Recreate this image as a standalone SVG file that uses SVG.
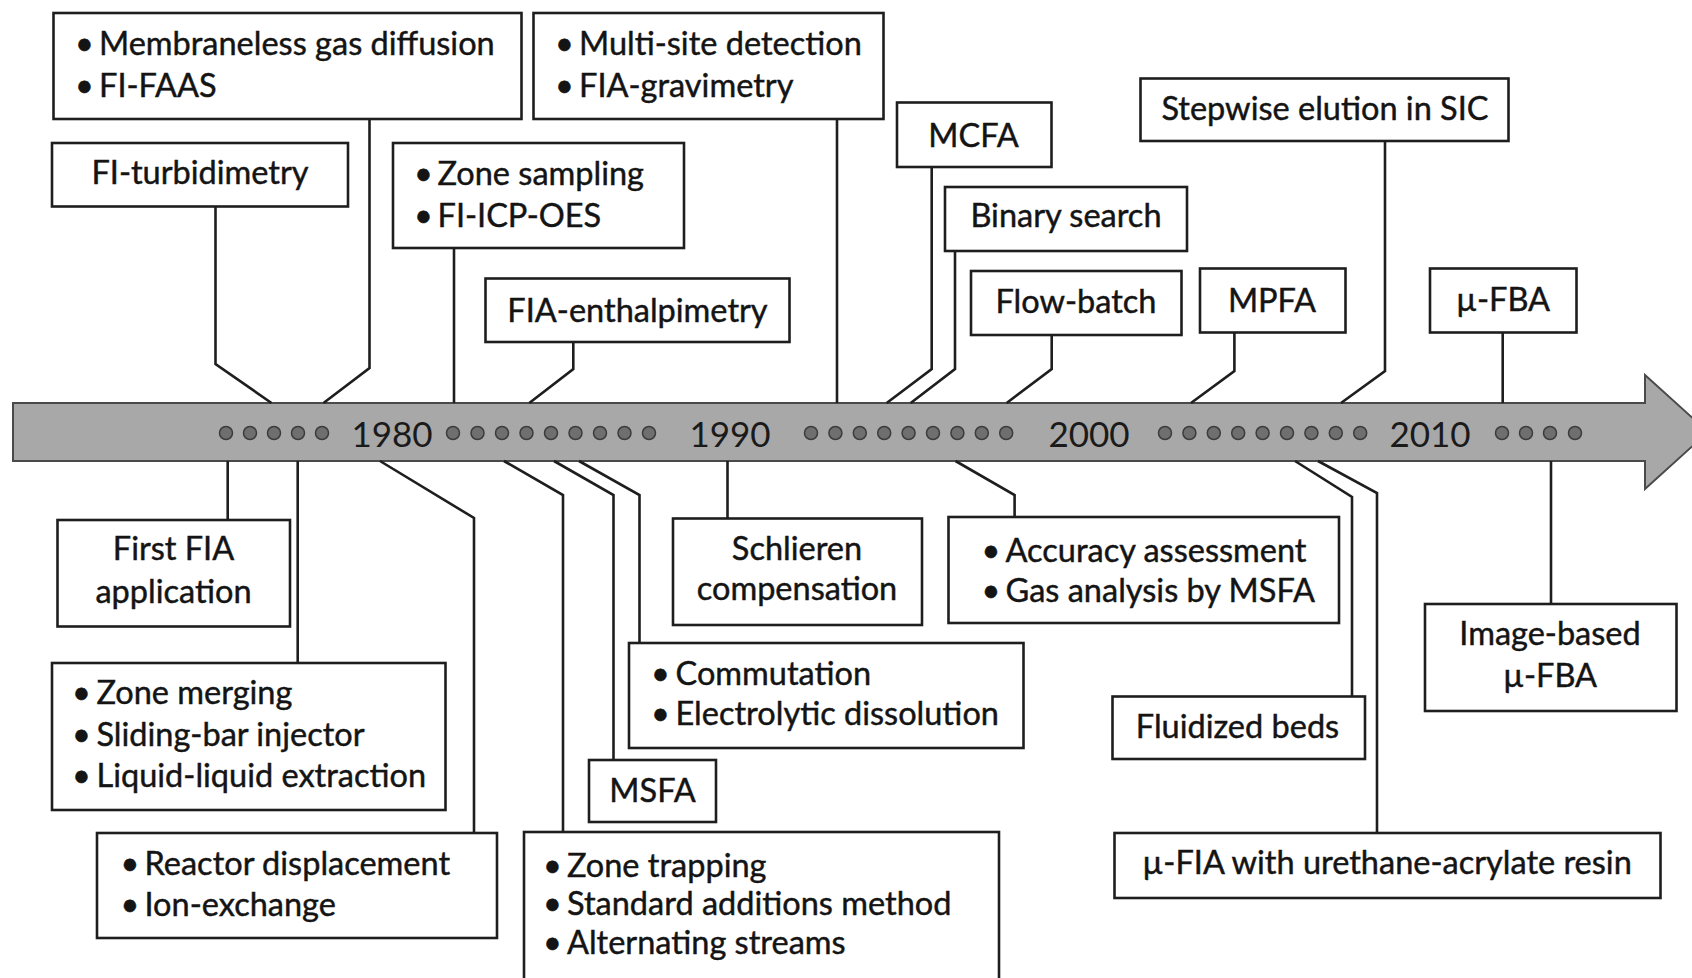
<svg xmlns="http://www.w3.org/2000/svg" width="1692" height="978" viewBox="0 0 1692 978">
<defs>
<style>
.box{fill:#fff;stroke:#1e1e1e;stroke-width:2.6}
.t{font-family:Lato,"Liberation Sans",sans-serif;font-size:32.5px;fill:#141414;stroke:#141414;stroke-width:0.45}
.c{text-anchor:middle}
.yr{font-family:Lato,"Liberation Sans",sans-serif;font-size:35px;fill:#1a1a1a;text-anchor:middle}
.ln{fill:none;stroke:#1e1e1e;stroke-width:2.6;stroke-linejoin:miter}
.dot{fill:#6f6f6f;stroke:#3c3c3c;stroke-width:1.5}
</style>
</defs>
<rect width="1692" height="978" fill="#fff"/>

<g id="timeline">
<path d="M13,403 L1645,403 L1645,375 L1708,432 L1645,489 L1645,461 L13,461 Z" fill="#a8a8a8" stroke="#4a4a4a" stroke-width="2"/>
<g id="dots">
<circle class="dot" cx="226" cy="433" r="6.5"/><circle class="dot" cx="250" cy="433" r="6.5"/><circle class="dot" cx="274" cy="433" r="6.5"/><circle class="dot" cx="298" cy="433" r="6.5"/><circle class="dot" cx="322" cy="433" r="6.5"/>
<circle class="dot" cx="453" cy="433" r="6.5"/><circle class="dot" cx="477.5" cy="433" r="6.5"/><circle class="dot" cx="502" cy="433" r="6.5"/><circle class="dot" cx="526.5" cy="433" r="6.5"/><circle class="dot" cx="551" cy="433" r="6.5"/><circle class="dot" cx="575.5" cy="433" r="6.5"/><circle class="dot" cx="600" cy="433" r="6.5"/><circle class="dot" cx="624.5" cy="433" r="6.5"/><circle class="dot" cx="649" cy="433" r="6.5"/>
<circle class="dot" cx="811" cy="433" r="6.5"/><circle class="dot" cx="835.4" cy="433" r="6.5"/><circle class="dot" cx="859.8" cy="433" r="6.5"/><circle class="dot" cx="884.2" cy="433" r="6.5"/><circle class="dot" cx="908.6" cy="433" r="6.5"/><circle class="dot" cx="933" cy="433" r="6.5"/><circle class="dot" cx="957.4" cy="433" r="6.5"/><circle class="dot" cx="981.8" cy="433" r="6.5"/><circle class="dot" cx="1006.2" cy="433" r="6.5"/>
<circle class="dot" cx="1165" cy="433" r="6.5"/><circle class="dot" cx="1189.4" cy="433" r="6.5"/><circle class="dot" cx="1213.8" cy="433" r="6.5"/><circle class="dot" cx="1238.2" cy="433" r="6.5"/><circle class="dot" cx="1262.6" cy="433" r="6.5"/><circle class="dot" cx="1287" cy="433" r="6.5"/><circle class="dot" cx="1311.4" cy="433" r="6.5"/><circle class="dot" cx="1335.8" cy="433" r="6.5"/><circle class="dot" cx="1360.2" cy="433" r="6.5"/>
<circle class="dot" cx="1502" cy="433" r="6.5"/><circle class="dot" cx="1526" cy="433" r="6.5"/><circle class="dot" cx="1550" cy="433" r="6.5"/><circle class="dot" cx="1575" cy="433" r="6.5"/>
</g>
<text class="yr" x="392" y="447">1980</text>
<text class="yr" x="730" y="447">1990</text>
<text class="yr" x="1089" y="447">2000</text>
<text class="yr" x="1430" y="447">2010</text>
</g>

<g id="connectors">
<path class="ln" d="M215.5,206 L215.5,364 L271.5,403"/>
<path class="ln" d="M369.5,119 L369.5,368 L323.5,403"/>
<path class="ln" d="M454,248 L454,403"/>
<path class="ln" d="M573.3,342 L573.3,369 L529.3,403"/>
<path class="ln" d="M837,119 L837,403"/>
<path class="ln" d="M931.7,167 L931.7,369 L886.7,403"/>
<path class="ln" d="M955,251 L955,369 L910.7,403"/>
<path class="ln" d="M1051.7,335 L1051.7,369 L1006.7,403"/>
<path class="ln" d="M1234.4,332.7 L1234.4,371 L1191,403"/>
<path class="ln" d="M1385,141 L1385,371 L1341,403"/>
<path class="ln" d="M1502.7,333 L1502.7,403"/>
<path class="ln" d="M227.7,461 L227.7,520"/>
<path class="ln" d="M297.7,461 L297.7,663"/>
<path class="ln" d="M380,461 L474,518 L474,833"/>
<path class="ln" d="M504,461 L563,495 L563,832"/>
<path class="ln" d="M554,461 L613.5,495 L613.5,760"/>
<path class="ln" d="M579,461 L639.5,495 L639.5,643"/>
<path class="ln" d="M727.5,461 L727.5,518"/>
<path class="ln" d="M955.5,461 L1014.6,495 L1014.6,517"/>
<path class="ln" d="M1295,461 L1352,497 L1352,696"/>
<path class="ln" d="M1318,461 L1377,493 L1377,833"/>
<path class="ln" d="M1551,461 L1551,604"/>
</g>

<g id="n-membraneless">
<rect class="box" x="53.5" y="13" width="468" height="106"/>
<text class="t" y="55"><tspan x="75">•</tspan><tspan x="99">Membraneless gas diffusion</tspan></text>
<text class="t" y="96.5"><tspan x="75">•</tspan><tspan x="99">FI-FAAS</tspan></text>
</g>
<g id="n-multisite">
<rect class="box" x="533.5" y="13" width="350" height="106"/>
<text class="t" y="55"><tspan x="555">•</tspan><tspan x="579">Multi-site detection</tspan></text>
<text class="t" y="96.5"><tspan x="555">•</tspan><tspan x="579">FIA-gravimetry</tspan></text>
</g>
<g id="n-turbidimetry">
<rect class="box" x="52" y="143" width="296" height="63.5"/>
<text class="t c" x="200" y="183.5">FI-turbidimetry</text>
</g>
<g id="n-zonesampling">
<rect class="box" x="393" y="143" width="291" height="105"/>
<text class="t" y="185"><tspan x="414">•</tspan><tspan x="437.5">Zone sampling</tspan></text>
<text class="t" y="226.5"><tspan x="414">•</tspan><tspan x="437.5">FI-ICP-OES</tspan></text>
</g>
<g id="n-enthalpimetry">
<rect class="box" x="485.5" y="278.5" width="304" height="63.5"/>
<text class="t c" x="637.5" y="321.5">FIA-enthalpimetry</text>
</g>
<g id="n-mcfa">
<rect class="box" x="897" y="102.5" width="154.5" height="64.5"/>
<text class="t c" x="973.5" y="146.5">MCFA</text>
</g>
<g id="n-binary">
<rect class="box" x="945" y="187" width="242" height="64"/>
<text class="t c" x="1066" y="226.5">Binary search</text>
</g>
<g id="n-flowbatch">
<rect class="box" x="971" y="271" width="210.5" height="64"/>
<text class="t c" x="1076" y="313">Flow-batch</text>
</g>
<g id="n-mpfa">
<rect class="box" x="1200" y="268.5" width="145.5" height="64"/>
<text class="t c" x="1272" y="311.5">MPFA</text>
</g>
<g id="n-stepwise">
<rect class="box" x="1140.5" y="78.5" width="368" height="62.5"/>
<text class="t c" x="1325" y="120">Stepwise elution in SIC</text>
</g>
<g id="n-mufba">
<rect class="box" x="1430" y="268.5" width="146.5" height="64"/>
<text class="t c" x="1503" y="311">µ-FBA</text>
</g>
<g id="n-firstfia">
<rect class="box" x="57.5" y="520" width="232.5" height="106.5"/>
<text class="t c" x="173.5" y="560">First FIA</text>
<text class="t c" x="173.5" y="602.5">application</text>
</g>
<g id="n-zonemerging">
<rect class="box" x="52" y="663" width="393.5" height="147"/>
<text class="t" y="703.5"><tspan x="72">•</tspan><tspan x="96.5">Zone merging</tspan></text>
<text class="t" y="745.5"><tspan x="72">•</tspan><tspan x="96.5">Sliding-bar injector</tspan></text>
<text class="t" y="787"><tspan x="72">•</tspan><tspan x="96.5">Liquid-liquid extraction</tspan></text>
</g>
<g id="n-reactor">
<rect class="box" x="97" y="833" width="400" height="105"/>
<text class="t" y="875"><tspan x="120.5">•</tspan><tspan x="144.5">Reactor displacement</tspan></text>
<text class="t" y="916"><tspan x="120.5">•</tspan><tspan x="144.5">Ion-exchange</tspan></text>
</g>
<g id="n-zonetrapping">
<rect class="box" x="524" y="832" width="475" height="160"/>
<text class="t" y="877"><tspan x="543">•</tspan><tspan x="567">Zone trapping</tspan></text>
<text class="t" y="915"><tspan x="543">•</tspan><tspan x="567">Standard additions method</tspan></text>
<text class="t" y="953.5"><tspan x="543">•</tspan><tspan x="567">Alternating streams</tspan></text>
</g>
<g id="n-msfa">
<rect class="box" x="589" y="760" width="127" height="62"/>
<text class="t c" x="652.5" y="801.5">MSFA</text>
</g>
<g id="n-commutation">
<rect class="box" x="629" y="643" width="394.5" height="105"/>
<text class="t" y="685"><tspan x="651">•</tspan><tspan x="675.5">Commutation</tspan></text>
<text class="t" y="725"><tspan x="651">•</tspan><tspan x="675.5">Electrolytic dissolution</tspan></text>
</g>
<g id="n-schlieren">
<rect class="box" x="673" y="518.5" width="249" height="106.5"/>
<text class="t c" x="797" y="559.5">Schlieren</text>
<text class="t c" x="797" y="600">compensation</text>
</g>
<g id="n-accuracy">
<rect class="box" x="948.5" y="517" width="390.5" height="106"/>
<text class="t" y="561.5"><tspan x="981.5">•</tspan><tspan x="1005.5">Accuracy assessment</tspan></text>
<text class="t" y="601.5"><tspan x="981.5">•</tspan><tspan x="1005.5">Gas analysis by MSFA</tspan></text>
</g>
<g id="n-fluidized">
<rect class="box" x="1112.5" y="696.5" width="252.5" height="62.5"/>
<text class="t c" x="1237.5" y="737.5">Fluidized beds</text>
</g>
<g id="n-mufia">
<rect class="box" x="1114.5" y="833" width="546" height="65"/>
<text class="t c" x="1387" y="873.5">µ-FIA with urethane-acrylate resin</text>
</g>
<g id="n-imagebased">
<rect class="box" x="1425" y="604" width="251.5" height="107"/>
<text class="t c" x="1550" y="645">Image-based</text>
<text class="t c" x="1550" y="686.5">µ-FBA</text>
</g>
</svg>
